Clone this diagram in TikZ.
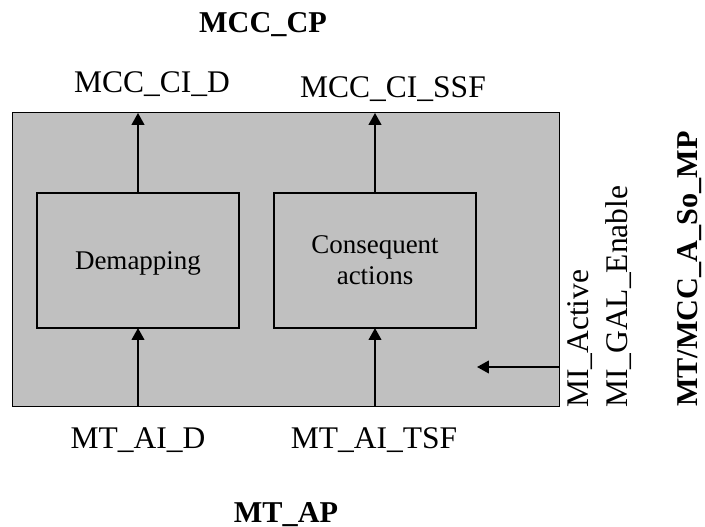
\documentclass[tikz,border=0pt]{standalone}
\usepackage{fontspec}
\setmainfont{Liberation Serif}
\usepackage{tikz}
\usetikzlibrary{arrows.meta,positioning,calc}
\definecolor{fungray}{HTML}{C0C0C0}

\begin{document}
\begin{tikzpicture}[
    x=0.025cm,y=-0.025cm,
    atomic/.style = {rectangle,draw=black,line width=0.7pt,fill=fungray,
                     minimum width=13.65cm,minimum height=7.325cm,inner sep=0pt,outer sep=0pt},
    func/.style   = {rectangle,draw=black,line width=1.4pt,fill=fungray,align=center,
                     minimum width=5.05cm,minimum height=3.375cm,inner sep=0pt,outer sep=0pt,
                     font=\fontsize{19.2}{21.8}\selectfont},
    flow/.style   = {-{Triangle[length=8.5pt,width=9pt]},line width=1.4pt},
    sig/.style    = {font=\fontsize{22.4}{26}\selectfont,inner sep=0pt,anchor=base},
    ap/.style     = {font=\fontsize{21.5}{25}\selectfont\bfseries,inner sep=0pt,anchor=base},
  ]
  \useasboundingbox (0,0) rectangle (705,527);

  \node[atomic] (frame) at (286,259.5) {};

  \node[func,text depth=0pt] (dem)  at (138,260.5) {Demapping};
  \node[func]                (cons) at (375,260.5) {Consequent\\actions};

  \node[ap]  (cp)    at (263,32)  {MCC\_CP};
  \node[sig] (cid)   at (152,92)  {MCC\_CI\_D};
  \node[sig] (cissf) at (393,97)  {MCC\_CI\_SSF};
  \node[sig] (aid)   at (138,448) {MT\_AI\_D};
  \node[sig] (aitsf) at (374,448) {MT\_AI\_TSF};
  \node[ap]  (mtap)  at (286,522) {MT\_AP};

  \node[sig,anchor=base west,rotate=90] (miact) at (588,408) {MI\_Active};
  \node[sig,anchor=base west,rotate=90] (migal) at (627,408) {MI\_GAL\_Enable};
  \node[ap,anchor=base west,rotate=90]  (mtmcc) at (697,407) {MT/MCC\_A\_So\_MP};

  \draw[flow] (dem.north) -- (dem.north |- frame.north);
  \draw[flow] (cons.north) -- (cons.north |- frame.north);
  \draw[flow] (dem.south |- frame.south) -- (dem.south);
  \draw[flow] (cons.south |- frame.south) -- (cons.south);

  \coordinate (mitip) at (477,367);
  \draw[flow] (frame.east |- mitip) -- (mitip);

\end{tikzpicture}
\end{document}
